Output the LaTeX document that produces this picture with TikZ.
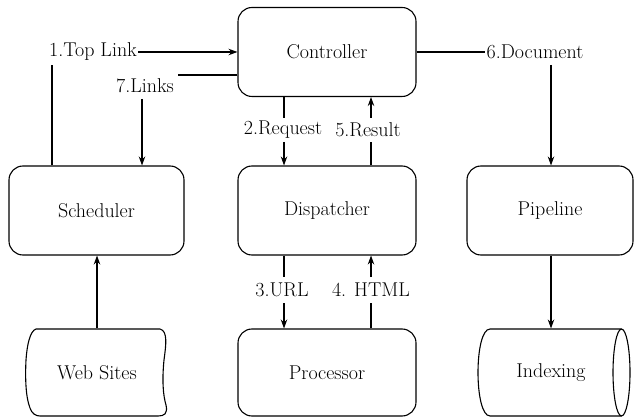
\documentclass[tikz,border=0pt]{standalone}
\usepackage{fontspec}
\setmainfont{Latin Modern Roman}
\usetikzlibrary{arrows.meta}
\begin{document}
\begin{tikzpicture}[x=1pt,y=-1pt,line width=1.1pt,
  txt/.style={font=\fontsize{20}{24}\selectfont},
  box/.style={txt,draw,rounded corners=14pt,minimum width=178pt,minimum height=89pt,inner sep=0pt},
  ghost/.style={txt,inner sep=0pt,minimum height=87pt},
  lbl/.style={txt,inner sep=1pt},
  arr/.style={-{Stealth[length=9pt,width=6.5pt]}}]
\useasboundingbox (0,0) rectangle (636,419);
% boxes
\node[box] (ctrl) at (327,52) {Controller};
\node[box,minimum width=175pt] (sched) at (96.5,210.5) {Scheduler};
\node[box] (disp) at (327,210.5) {Dispatcher};
\node[box,minimum width=166pt] (pipe) at (550,210.5) {Pipeline};
\node[box,minimum height=87pt] (proc) at (327,372.5) {Processor};
\node[ghost] (ws) at (97,372.5) {Web Sites};
\node[ghost] (idx) at (551,372.5) {Indexing};
% web sites shape
\draw (36,329) -- (160,329)
  .. controls (168,331) and (166,345) .. (164,360)
  .. controls (162,380) and (163,395) .. (166,405)
  .. controls (168,414) and (164,416) .. (158,416)
  -- (40,416)
  .. controls (36,416) and (32,414) .. (30,408)
  .. controls (26,398) and (25,380) .. (26,360)
  .. controls (27,345) and (30,331) .. (36,329) -- cycle;
% indexing cylinder
\draw (621.5,329) -- (490,329) .. controls (474,329) and (474,416) .. (490,416) -- (621.5,416);
\draw (621.5,372.5) ellipse [x radius=8.5pt,y radius=43.5pt];
% labels
\node[lbl] (l1) at (93,52) {1.Top Link};
\node[lbl] (l7) at (145,86) {7.Links};
\node[lbl] (l2) at (283,130) {2.Request};
\node[lbl] (l5) at (368,130) {5.Result};
\node[lbl] (l6) at (535,52) {6.Document};
\node[lbl] (l3) at (282,290) {3.URL};
\node[lbl] (l4) at (371,290) {4. HTML};
% coordinates
\coordinate (a1) at (52,65);
\coordinate (a7) at (178,75);
\coordinate (b7) at (142,99);
\coordinate (a2) at (284,118);
\coordinate (b2) at (284,142);
\coordinate (a5) at (371,142);
\coordinate (b5) at (371,118);
\coordinate (a6) at (551,65);
\coordinate (a3) at (284,277);
\coordinate (b3) at (284,303);
\coordinate (a4) at (371,303);
\coordinate (b4) at (371,277);
% connectors
\draw (sched.north -| a1) -- (a1);
\draw[arr] (l1.east) -- (ctrl.west |- l1.east);
\draw (ctrl.west |- a7) -- (a7);
\draw[arr] (b7) -- (sched.north -| b7);
\draw (ctrl.south -| a2) -- (a2);
\draw[arr] (b2) -- (disp.north -| b2);
\draw (disp.north -| a5) -- (a5);
\draw[arr] (b5) -- (ctrl.south -| b5);
\draw (ctrl.east) -- (l6.west);
\draw[arr] (a6) -- (pipe.north -| a6);
\draw (disp.south -| a3) -- (a3);
\draw[arr] (b3) -- (proc.north -| b3);
\draw (proc.north -| a4) -- (a4);
\draw[arr] (b4) -- (disp.south -| b4);
\draw[arr] (ws.north) -- (sched.south -| ws.north);
\draw[arr] (pipe.south -| idx.north) -- (idx.north);
\end{tikzpicture}
\end{document}
